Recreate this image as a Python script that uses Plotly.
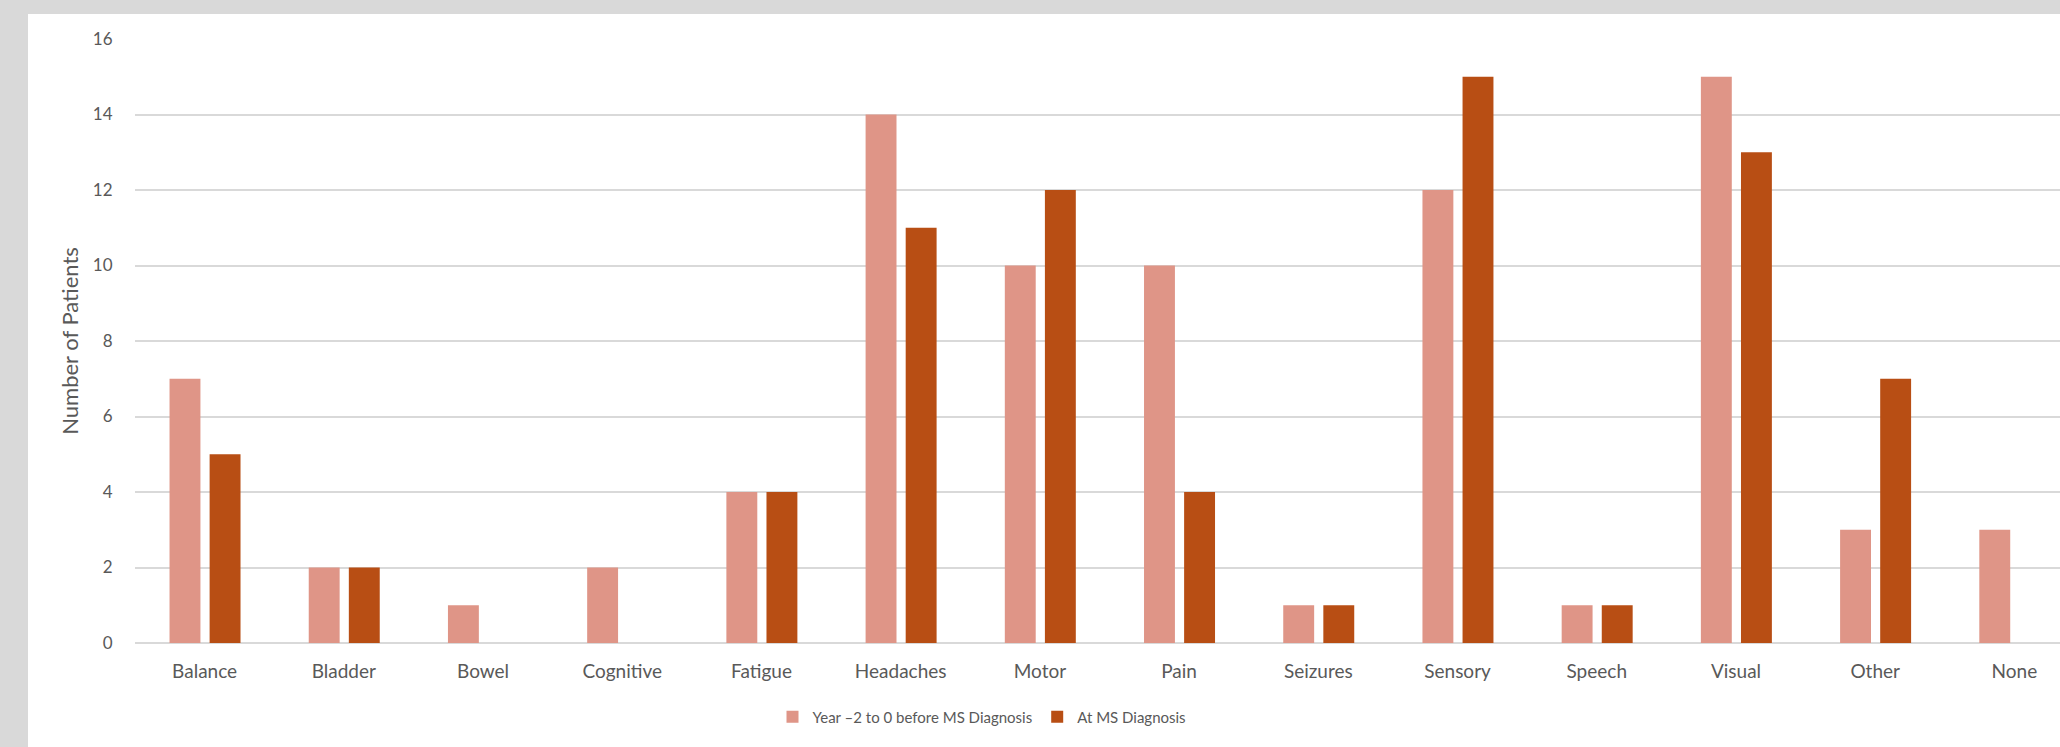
import plotly.graph_objects as go

# Symptom categories and patient counts for each time window
categories = ["Balance", "Bladder", "Bowel", "Cognitive", "Fatigue", "Headaches", "Motor",
              "Pain", "Seizures", "Sensory", "Speech", "Visual", "Other", "None"]
before_dx = [7, 2, 1, 2, 4, 14, 10, 10, 1, 12, 1, 15, 3, 3]
at_dx = [5, 2, 0, 0, 4, 11, 12, 4, 1, 15, 1, 13, 7, 0]
series_names = ["Year \u20132 to 0 before MS Diagnosis", "At MS Diagnosis"]
y_ticks = [0, 2, 4, 6, 8, 10, 12, 14, 16]

LIGHT = "#DF9587"
DARK = "#B84E14"
TEXT = "#595959"
GRID = "#D9D9D9"
FONT = "Lato"

W, H = 2060, 747
L, T, B = 135, 39, 104
plot_w = W - L
plot_h = H - T - B

fig = go.Figure()
fig.add_trace(go.Bar(x=categories, y=before_dx, name=series_names[0],
                     marker=dict(color=LIGHT, line=dict(width=0)),
                     width=0.222, offset=-0.252))
fig.add_trace(go.Bar(x=categories, y=at_dx, name=series_names[1],
                     marker=dict(color=DARK, line=dict(width=0)),
                     width=0.222, offset=0.036))

def px_to_paper_x(px):
    return (px - L) / plot_w

def px_to_paper_y(py):
    return (H - B - py) / plot_h

# white card over the grey page
fig.add_shape(type="rect", xref="paper", yref="paper", layer="below",
              x0=px_to_paper_x(28), x1=px_to_paper_x(W + 5),
              y0=px_to_paper_y(H + 5), y1=px_to_paper_y(14),
              fillcolor="white", line=dict(width=0))

fig.update_layout(
    width=W, height=H,
    margin=dict(l=L, r=0, t=T, b=B),
    paper_bgcolor="#D9D9D9",
    plot_bgcolor="white",
    barmode="overlay",
    font=dict(family=FONT, color=TEXT),
    xaxis=dict(
        range=[-0.5, 13.5 - 24 / 139.2],
        showgrid=False, zeroline=False, showline=False,
        ticks="outside", ticklen=11, tickcolor="rgba(0,0,0,0)",
        tickfont=dict(size=19, color=TEXT, family=FONT),
    ),
    yaxis=dict(
        range=[0, 16], tickvals=y_ticks,
        showgrid=True, gridcolor=GRID, gridwidth=1.5,
        zeroline=True, zerolinecolor=GRID, zerolinewidth=1.5,
        showline=False,
        ticks="outside", ticklen=18, tickcolor="rgba(0,0,0,0)",
        tickfont=dict(size=17, color=TEXT, family=FONT),
        title=dict(text="Number of Patients", font=dict(size=22, color=TEXT, family=FONT),
                   standoff=8),
    ),
    legend=dict(
        orientation="h", xanchor="center", yanchor="middle",
        x=px_to_paper_x(982), y=px_to_paper_y(717),
        font=dict(size=15, color=TEXT, family=FONT),
        bgcolor="rgba(0,0,0,0)",
        itemwidth=30, traceorder="normal",
    ),
    showlegend=True,
)

fig.write_html("out.html")
